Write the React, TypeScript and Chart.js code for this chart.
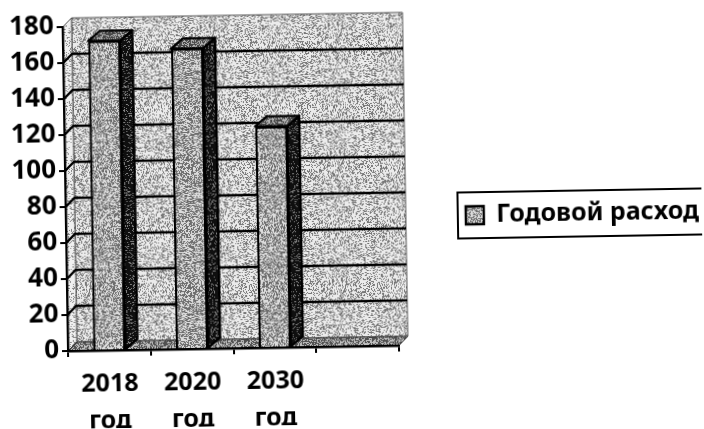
import React, { useEffect, useRef } from "react";
import { Chart, registerables } from "chart.js";

Chart.register(...registerables);

const categories: string[][] = [["2018", "год"], ["2020", "год"], ["2030", "год"], [""]];
const seriesLabel = "Годовой расход";
const yearlyExpense: (number | null)[] = [172, 167, 123, null];
const FONT = '"Noto Sans", sans-serif';

function speckle(level: number, dark: number, light: number): CanvasPattern {
  const size = 128;
  const c = document.createElement("canvas");
  c.width = size;
  c.height = size;
  const g = c.getContext("2d")!;
  const img = g.createImageData(size, size);
  for (let y = 0; y < size; y++) {
    for (let x = 0; x < size; x++) {
      let h = y * size + x + 12345;
      h = Math.imul(h ^ (h >>> 16), 0x85ebca6b);
      h = Math.imul(h ^ (h >>> 13), 0xc2b2ae35);
      h = h ^ (h >>> 16);
      const v = (h >>> 0) / 4294967296;
      const on = v < level ? light : dark;
      const i = (y * size + x) * 4;
      img.data[i] = img.data[i + 1] = img.data[i + 2] = on;
      img.data[i + 3] = 255;
    }
  }
  g.putImageData(img, 0, 0);
  return g.createPattern(c, "repeat")!;
}

export default function App() {
  const ref = useRef<HTMLCanvasElement>(null);
  useEffect(() => {
    const canvas = ref.current!;
    const ctx = canvas.getContext("2d")!;
    const wallFill = speckle(0.66, 120, 235);
    const leftFill = speckle(0.8, 135, 240);
    const floorFill = speckle(0.45, 80, 190);
    const barFill = speckle(0.5, 110, 220);
    const topFill = speckle(0.4, 70, 180);
    const sideFill = speckle(0.2, 15, 130);
    const wallDx = 9;
    const wallDy = -9;
    const barDx = 12;
    const barDy = -10;

    const poly = (g: CanvasRenderingContext2D, pts: number[][], fill: any, stroke: string, lw: number) => {
      g.beginPath();
      pts.forEach((p, i) => (i ? g.lineTo(p[0], p[1]) : g.moveTo(p[0], p[1])));
      g.closePath();
      g.fillStyle = fill;
      g.fill();
      g.strokeStyle = stroke;
      g.lineWidth = lw;
      g.lineJoin = "round";
      g.stroke();
    };

    const scene = {
      id: "scene",
      beforeDraw(chart: any) {
        const { left: l, right: r, top: t, bottom: b } = chart.chartArea;
        const g = chart.ctx;
        g.save();
        poly(g, [[l + wallDx, t + wallDy], [r + wallDx, t + wallDy], [r + wallDx, b + wallDy], [l + wallDx, b + wallDy]], wallFill, "#555", 1);
        poly(g, [[l, t], [l + wallDx, t + wallDy], [l + wallDx, b + wallDy], [l, b]], leftFill, "#555", 1);
        poly(g, [[l, b], [l + wallDx, b + wallDy], [r + wallDx, b + wallDy], [r, b]], floorFill, "#333", 1);
        g.restore();
      },
      beforeDatasetsDraw(chart: any) {
        const { left: l, right: r } = chart.chartArea;
        const g = chart.ctx;
        const y = chart.scales.y;
        g.save();
        g.strokeStyle = "#000";
        g.lineWidth = 2.4;
        y.ticks.forEach((tk: any) => {
          if (tk.value === 0 || tk.value === 180) return;
          const py = y.getPixelForValue(tk.value);
          g.beginPath();
          g.moveTo(l, py);
          g.lineTo(l + wallDx, py + wallDy);
          g.lineTo(r + wallDx, py + wallDy);
          g.stroke();
        });
        g.restore();
      },
      afterDatasetsDraw(chart: any) {
        const g = chart.ctx;
        g.save();
        chart.getDatasetMeta(0).data.forEach((bar: any, i: number) => {
          if (yearlyExpense[i] == null) return;
          const p = bar.getProps(["x", "y", "base", "width"], true);
          const x0 = p.x - p.width / 2;
          const x1 = p.x + p.width / 2;
          poly(g, [[x1, p.y], [x1 + barDx, p.y + barDy], [x1 + barDx, p.base + barDy], [x1, p.base]], sideFill, "#000", 2.4);
          poly(g, [[x0, p.y], [x0 + barDx, p.y + barDy], [x1 + barDx, p.y + barDy], [x1, p.y]], topFill, "#000", 2.4);
        });
        g.restore();
      },
      afterLayout(chart: any) {
        const lg = chart.legend;
        lg.left = 461;
        lg.right = 704;
        lg.top = 199;
        lg.bottom = 245;
        lg.width = 243;
        lg.height = 46;
      },
      afterDraw(chart: any) {
        const lg = chart.legend;
        const g = chart.ctx;
        g.save();
        g.strokeStyle = "#000";
        g.lineWidth = 2;
        g.strokeRect(lg.left - 1, lg.top, 260, lg.bottom - lg.top);
        g.restore();
      },
    };

    const chart = new Chart(ctx, {
      type: "bar",
      data: {
        labels: categories,
        datasets: [
          {
            label: seriesLabel,
            data: yearlyExpense,
            backgroundColor: barFill,
            borderColor: "#000",
            borderWidth: 2.4,
            barPercentage: 0.39,
            categoryPercentage: 1,
          },
        ],
      },
      options: {
        animation: false,
        responsive: false,
        devicePixelRatio: 1,
        layout: { padding: { left: 0, top: 27, right: 305, bottom: 0 } },
        plugins: {
          title: { display: false },
          tooltip: { enabled: false },
          legend: {
            position: "chartArea",
            align: "center",
            labels: {
              color: "#000",
              boxWidth: 18,
              boxHeight: 18,
              padding: 7,
              font: { family: FONT, size: 25, weight: "bold" },
            },
          },
        },
        scales: {
          x: {
            afterFit(s: any) {
              s.height = 78;
            },
            grid: { drawOnChartArea: false, drawTicks: true, tickLength: 6, color: "#000", lineWidth: 2 },
            border: { color: "#000", width: 2.4 },
            ticks: {
              color: "#000",
              padding: 9,
              maxRotation: 0,
              autoSkip: false,
              font: { family: FONT, size: 25, weight: "bold", lineHeight: 1.48 },
            },
          },
          y: {
            min: 0,
            max: 180,
            afterFit(s: any) {
              s.width = 68;
            },
            grid: { drawOnChartArea: false, drawTicks: true, tickLength: 6, color: "#000", lineWidth: 2 },
            border: { color: "#000", width: 2.4 },
            ticks: {
              stepSize: 20,
              color: "#000",
              padding: 3,
              font: { family: FONT, size: 26, weight: "bold" },
            },
          },
        },
      },
      plugins: [scene],
    } as any);
    return () => chart.destroy();
  }, []);

  return (
    <div style={{ position: "absolute", left: 0, top: 0, width: 704, height: 429, overflow: "hidden", background: "#fff" }}>
      <canvas
        ref={ref}
        width={704}
        height={429}
        style={{ display: "block", width: 704, height: 429, transform: "rotate(-0.95deg)", transformOrigin: "68px 351px" }}
      />
    </div>
  );
}
